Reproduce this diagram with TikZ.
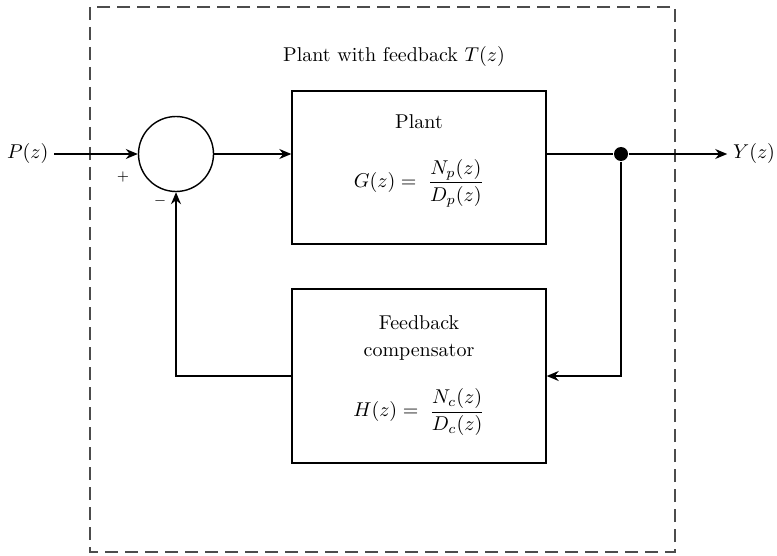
\documentclass[tikz,border=0pt]{standalone}
\usepackage{amsmath}
\usetikzlibrary{arrows.meta}
\begin{document}
\begin{tikzpicture}[x=0.5pt, y=-0.5pt, font=\normalsize,
    >={Stealth[length=6pt, width=5pt]},
    line width=0.7pt,
    blockbox/.style={draw, minimum width=127pt, inner sep=0pt},
    sumnode/.style={draw, circle, minimum size=37.5pt, inner sep=0pt},
    signlbl/.style={font=\scriptsize, inner sep=0pt},
    frame/.style={dashed, dash pattern=on 6.5pt off 3.5pt, black!70}]
\useasboundingbox (0,0) rectangle (777,556);
\draw[frame] (90,7) rectangle (675,552);
\node (title) at (394,57) {Plant with feedback $T(z)$};

\node[anchor=west, inner sep=0pt, outer sep=3pt] (input) at (1,154) {$P(z)$};
\node[sumnode] (sum) at (176,154) {};
\node[signlbl] (plus) at (123,177) {$+$};
\node[signlbl] (minus) at (160,201) {$-$};

\node[blockbox, minimum height=76.5pt] (plant) at (419,167.5) {};
\node (plantname) at (419,122) {Plant};
\node (planteq) at (419,183) {$G(z) = \;\dfrac{N_p(z)}{D_p(z)}$};

\node[blockbox, minimum height=87pt] (comp) at (419,376) {};
\node[align=center, font=\fontsize{10}{13.5}\selectfont] (compname) at (419,338)
  {Feedback\\compensator};
\node (compeq) at (419,412) {$H(z) = \;\dfrac{N_c(z)}{D_c(z)}$};

\node[circle, fill, inner sep=0pt, minimum size=7pt] (branch) at (621,154) {};
\node[anchor=east, inner sep=0pt, outer sep=3pt] (output) at (781,154) {$Y(z)$};

\draw[->] (input) -- (sum);
\draw[->] (sum.east) -- (sum.east -| plant.west);
\draw (sum.east -| plant.east) -- (branch);
\draw[->] (branch) -- (output);
\draw[->] (branch) |- (comp.east);
\draw[->] (comp.west) -| (sum.south);
\end{tikzpicture}
\end{document}
